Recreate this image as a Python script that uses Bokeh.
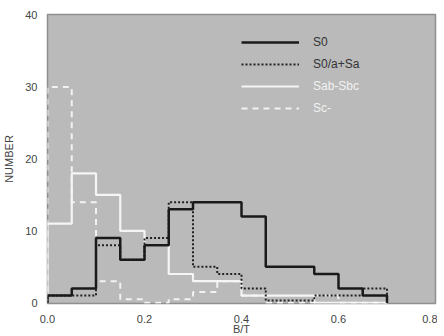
import numpy as np
from bokeh.plotting import figure
from bokeh.models import Range1d, Legend, LegendItem, FixedTicker, NumeralTickFormatter
from bokeh.embed import file_html
from bokeh.resources import INLINE

# ---- data ----
bin_edges = [0.00, 0.05, 0.10, 0.15, 0.20, 0.25, 0.30, 0.35, 0.40,
             0.45, 0.50, 0.55, 0.60, 0.65, 0.70]
s0      = [1, 2, 9, 6, 8, 13, 14, 14, 12, 5, 5, 4, 2, 1]
s0a_sa  = [1, 1, 8, 6, 9, 14, 5, 4, 2, 0.3, 0.3, 1, 1, 2]
sab_sbc = [11, 18, 15, 10, 8, 4, 3, 3, 1, 1, 1, 0, 0, 0]
sc      = [30, 14, 3, 0.5, 0, 0.5, 1.5, 3, 1, 0, 0, 1, 0, 0]
series_names = ["S0", "S0/a+Sa", "Sab-Sbc", "Sc-"]
x_ticks = [0.0, 0.2, 0.4, 0.6, 0.8]
y_ticks = [0, 10, 20, 30, 40]


def step_xy(edges, vals):
    xs, ys = [edges[0]], [0]
    for i, v in enumerate(vals):
        xs += [edges[i], edges[i + 1]]
        ys += [v, v]
    xs.append(edges[-1])
    ys.append(0)
    return xs, ys


FONT = "Liberation Sans"
p = figure(frame_width=388, frame_height=289, output_backend="svg", toolbar_location=None,
           x_range=Range1d(0, 0.8), y_range=Range1d(-0.1, 40.1),
           min_border_left=38, min_border_right=2, min_border_top=14,
           min_border_bottom=0)
p.background_fill_color = "#bababa"
p.border_fill_color = "white"
p.outline_line_color = "#8f8f8f"
p.outline_line_width = 1.5
p.grid.visible = False

for ax in (p.xaxis[0], p.yaxis[0]):
    ax.axis_line_color = None
    ax.major_tick_line_color = None
    ax.minor_tick_line_color = None
    ax.major_label_text_font = FONT
    ax.major_label_text_font_size = "11px"
    ax.major_label_text_color = "#444444"
    ax.axis_label_text_font = FONT
    ax.axis_label_text_font_size = "11px"
    ax.axis_label_text_font_style = "normal"
    ax.axis_label_text_color = "#444444"

p.xaxis.ticker = FixedTicker(ticks=x_ticks)
p.xaxis.formatter = NumeralTickFormatter(format="0.0")
p.xaxis.axis_label = "B/T"
p.xaxis.major_label_standoff = 5
p.xaxis.axis_label_standoff = -3

p.yaxis.ticker = FixedTicker(ticks=y_ticks)
p.yaxis.axis_label = "NUMBER"
p.yaxis.major_label_standoff = 4
p.yaxis.axis_label_standoff = 7

x, y = step_xy(bin_edges, sc)
r_sc = p.line(x, y, line_color="#f2f2f2", line_width=2, line_dash="6 5")
x, y = step_xy(bin_edges, sab_sbc)
r_sab = p.line(x, y, line_color="#f5f5f5", line_width=2.2)
x, y = step_xy(bin_edges, s0a_sa)
r_s0a = p.line(x, y, line_color="#222222", line_width=2, line_dash="2 2")
x, y = step_xy(bin_edges, s0)
r_s0 = p.line(x, y, line_color="#1a1a1a", line_width=2.5)

def make_legend(items, color, loc):
    lg = Legend(items=items, location=loc, background_fill_alpha=0,
                border_line_color=None, padding=0, margin=0, spacing=2,
                glyph_width=58, glyph_height=20, label_height=20,
                label_standoff=14, label_text_font=FONT,
                label_text_font_size="12px", label_text_color=color)
    p.add_layout(lg, "center")

make_legend([LegendItem(label=series_names[0], renderers=[r_s0]),
             LegendItem(label=series_names[1], renderers=[r_s0a])],
            "#333333", (194, 229))
make_legend([LegendItem(label=series_names[2], renderers=[r_sab]),
             LegendItem(label=series_names[3], renderers=[r_sc])],
            "#f2f2f2", (194, 185))

open("out.html", "w").write(file_html(p, INLINE))
